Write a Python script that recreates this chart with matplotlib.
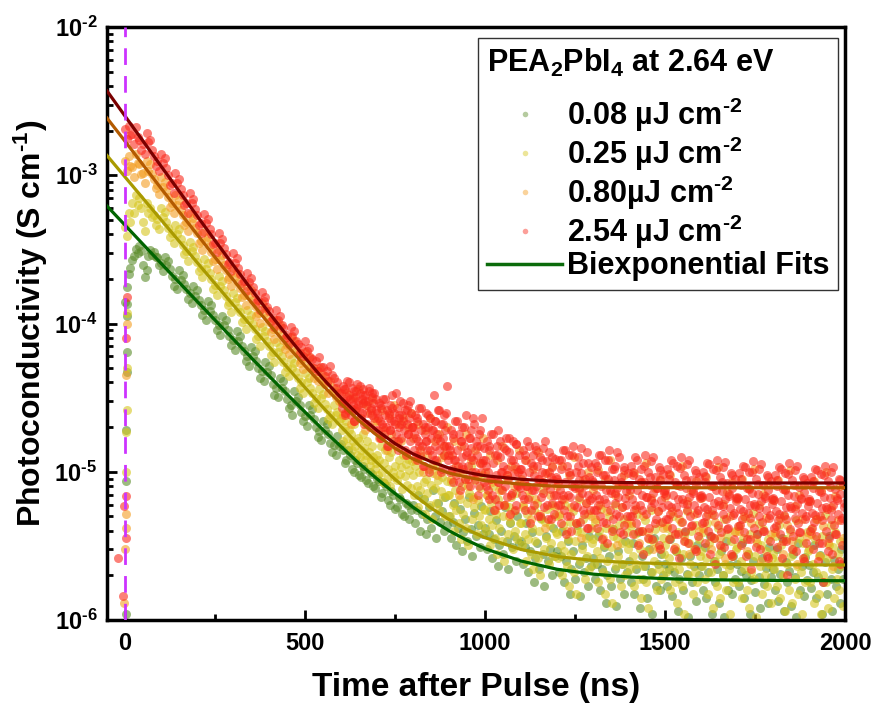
import numpy as np
import matplotlib
matplotlib.use('Agg')
import matplotlib.pyplot as plt
from matplotlib.ticker import LogLocator, NullFormatter, FuncFormatter, MultipleLocator
from matplotlib.lines import Line2D

plt.rcParams['font.family'] = ['Liberation Sans', 'DejaVu Sans']
plt.rcParams['font.weight'] = 'bold'
plt.rcParams['mathtext.fontset'] = 'custom'
plt.rcParams['mathtext.rm'] = 'Liberation Sans:bold'
plt.rcParams['mathtext.it'] = 'Liberation Sans:bold'
plt.rcParams['mathtext.bf'] = 'Liberation Sans:bold'

# all conductivities in uS/cm (1e-6 S/cm)
labels = ['0.08 µJ cm$^{\\text{-}2}$', '0.25 µJ cm$^{\\text{-}2}$',
          '0.80µJ cm$^{\\text{-}2}$', '2.54 µJ cm$^{\\text{-}2}$']
dot_colors = ['#5b8c2a', '#d6c61e', '#f49e22', '#fa2b1e']
fit_colors = ['#006400', '#a99a00', '#b35a00', '#7a0000']

# early part, sampled every 5 ns from 0 to 595 ns
early_t = np.arange(0, 600, 5)
green_early = [140, 175, 215, 235, 270, 285, 320, 300, 335, 310, 250, 205, 230, 285, 315, 290, 305, 280, 280, 250,
               255, 225, 280, 250, 265, 232, 210, 180, 200, 172, 229, 197, 214, 184, 171, 147, 160, 138, 179, 154,
               167, 144, 134, 115, 123, 106, 141, 122, 133, 114, 106, 91, 97, 84, 112, 97, 105, 90, 83, 72,
               77, 66, 89, 76, 82, 71, 65, 56, 60, 52, 69, 60, 65, 56, 50, 43, 48, 41, 55, 47,
               52, 45, 39, 33, 37, 32, 43, 37, 41, 35, 31, 27, 28, 24, 35, 30, 32, 28, 25.4, 21.9,
               23.8, 20.5, 28.1, 24.2, 26.5, 22.8, 20, 17.2, 18.9, 16.3, 22.1, 19.1, 21.1, 18.1, 15.7, 13.5, 15.1, 13, 17.3, 14.9]
yellow_early = [450, 390, 560, 484, 648, 558, 734, 632, 702, 605, 486, 419, 648, 558, 605, 521, 540, 465, 508, 437,
                605, 521, 562, 484, 443, 381, 405, 349, 464, 400, 432, 372, 340, 293, 308, 265, 356, 307, 329, 284,
                261, 225, 238, 205, 272, 234, 254, 219, 200, 172, 181, 156, 210, 180, 194, 167, 154, 133, 139, 120,
                161, 139, 149, 128, 119, 102, 107, 92, 123, 106, 114, 99, 92, 79, 82, 71, 95, 82, 89, 76,
                71, 61, 64, 55, 75, 64, 69, 60, 55, 47, 51, 44, 58, 50, 54, 47, 43, 37, 40, 34,
                46, 40, 42.7, 36.7, 34, 29.3, 31.3, 27, 36.2, 31.2, 33.5, 28.8, 26.5, 22.8, 24.3, 20.9, 28.1, 24.2, 25.4, 21.9]
orange_early = [1240, 1070, 1350, 1160, 1130, 977, 1400, 1210, 1190, 1020, 1030, 884, 1240, 1070, 1190, 1020, 950, 818, 864, 744,
                972, 837, 907, 781, 713, 614, 648, 558, 734, 632, 680, 586, 540, 465, 486, 419, 551, 474, 513, 442,
                405, 349, 362, 312, 416, 358, 386, 332, 305, 262, 272, 234, 311, 268, 289, 249, 231, 199, 206, 178,
                238, 205, 220, 190, 174, 150, 156, 134, 179, 154, 167, 144, 132, 113, 118, 101, 137, 118, 127, 110,
                102, 87, 92, 79, 105, 90, 97, 84, 78, 67, 72, 62, 81, 70, 76, 65, 63, 54, 57, 49,
                64, 55, 59, 51, 50, 43, 48, 41, 50, 43, 45, 39, 40, 34, 41, 35, 37, 32, 35, 30]
red_early = [2050, 1770, 2160, 1860, 1890, 1630, 2100, 1810, 1730, 1490, 1620, 1400, 1940, 1670, 1730, 1490, 1350, 1160, 1240, 1070,
             1400, 1210, 1300, 1120, 1000, 865, 885, 763, 1037, 893, 940, 809, 734, 632, 648, 558, 756, 651, 691, 595,
             540, 465, 475, 409, 551, 474, 508, 437, 400, 344, 351, 302, 405, 349, 373, 321, 294, 253, 261, 225,
             298, 257, 275, 237, 217, 187, 193, 166, 220, 190, 203, 175, 161, 139, 144, 124, 164, 141, 151, 130,
             121, 104, 109, 94, 123, 106, 113, 98, 93, 80, 84, 73, 95, 82, 89, 76, 73, 63, 69, 60,
             76, 65, 68, 59, 58, 50, 56, 48, 59, 51, 51, 44, 48, 41, 52, 45, 43, 37, 40, 34]

# points on the rising edge around t = 0
green_edge_t = [3, 4, 4, 5, 5, 6, 6]
green_edge = [1.1, 8.7, 19, 47, 64, 113, 136]
yellow_edge_t = [3, 4, 5, 5, 6]
yellow_edge = [9.9, 18.5, 26, 50, 117]
orange_edge_t = [-2, 1, 2, 3, 4, 5]
orange_edge = [1.3, 3.0, 4.2, 5.2, 45, 100]
red_edge_t = [-18, -6, -4, 2, 3, 4, 6]
red_edge = [2.6, 1.45, 5.9, 3.6, 6.9, 80, 150]

# tails from 600 ns to 2000 ns (evenly sampled)
green_tail = [
    15.5, 14, 11.5, 12, 14, 13, 10.5, 10, 12, 11.5, 9.5, 9.2, 11, 10.5, 8.8, 8.4, 10, 9.6, 8, 7.8,
    9, 8.6, 6.8, 7.2, 8.4, 8, 6.4, 6, 7.4, 7, 5.6, 5.8, 6.8, 6.5, 5.2, 5, 6.2, 6, 4.8, 5.5,
    6, 4.5, 5.5, 7, 4, 5.2, 6.5, 3.8, 4.8, 5.8, 4.2, 7.5, 5, 3.6, 6.2, 4.6, 5.4, 4, 6.8, 4.4,
    5, 3.6, 4.6, 6.2, 3.2, 4.2, 5.6, 2.9, 3.9, 4.8, 3.4, 6.8, 4.1, 2.7, 5.3, 3.7, 4.4, 3.1, 5.9, 3.8,
    4.2, 3, 3.8, 5.4, 2.6, 3.5, 4.7, 2.3, 3.2, 4, 2.8, 5.8, 3.4, 2.2, 4.5, 3.1, 3.7, 2.5, 5, 3.3,
    3.4, 2.4, 3.1, 4.5, 2.1, 2.9, 3.9, 1.8, 2.6, 3.3, 2.2, 4.9, 2.8, 1.7, 3.7, 2.5, 3, 2, 4.2, 2.7,
    2.9, 2.1, 2.7, 4, 1.8, 2.5, 3.4, 1.5, 2.2, 2.9, 1.9, 4.4, 2.4, 1.45, 3.2, 2.1, 2.6, 1.7, 3.7, 2.3,
    2.6, 1.9, 2.4, 3.7, 1.6, 2.2, 3.1, 1.3, 2, 2.7, 1.7, 4.1, 2.2, 1.25, 2.9, 1.9, 2.4, 1.5, 3.4, 2.1,
    2.5, 1.8, 3.3, 1.5, 2.2, 3.9, 1.2, 2.7, 1.9, 2.3, 1.4, 3, 2.1, 1.1, 3.6, 1.7, 2.4, 1.6, 2.8, 2,
    2.4, 1.7, 2.2, 3.5, 1.45, 2.1, 2.9, 1.15, 1.9, 2.6, 1.6, 3.9, 2.05, 1.05, 2.7, 1.8, 2.3, 1.35, 3.2, 2,
    2.3, 1.6, 3.1, 1.4, 2.1, 3.7, 1.1, 2.5, 1.8, 2.2, 1.3, 2.9, 2, 1.05, 3.4, 1.6, 2.35, 1.5, 2.7, 1.9,
    2.4, 1.7, 2.15, 3.3, 1.4, 2, 2.8, 1.1, 1.85, 2.5, 1.55, 3.8, 1.95, 1.2, 2.6, 1.75, 2.25, 1.3, 3.1, 1.95,
    2.2, 1.6, 3, 1.35, 2.05, 3.6, 1.15, 2.45, 1.8, 2.15, 1.25, 2.8, 1.95, 1.05, 3.3, 1.6, 2.3, 1.45, 2.65, 1.85,
    2.35, 1.65, 2.1, 3.2, 1.4, 1.95, 2.75, 1.1, 1.8, 2.45, 1.5, 3.7, 1.9, 1.15, 2.55, 1.7, 2.2, 1.3, 3, 1.9]
yellow_tail = [
    23, 19, 16, 20, 22, 17, 15, 19, 18, 14, 16, 21, 15, 13, 17, 16, 12.5, 14, 18, 14.5, 12, 13, 16, 13.5, 11, 12, 15, 12.5, 10.5, 11.5,
    13, 9.5, 12, 15, 10, 8.5, 11.5, 14, 9, 10.5, 12.5, 8, 13.5, 10, 9.2, 11, 16, 8.8, 12, 9.6, 10.8, 7.6, 13, 9.4, 11.2, 8.2, 12.2, 10.2, 7.8, 11.8,
    9.5, 7, 11, 8, 5.8, 10, 7.5, 12.5, 6.5, 8.5, 5.2, 9, 7.2, 10.5, 6, 8.2, 4.8, 9.8, 7.8, 6.2, 11.5, 8.8, 5.5, 7.4, 9.2, 6.8, 13, 5, 8.6, 7,
    7, 5, 8.5, 6, 4, 7.5, 5.5, 10, 4.5, 6.5, 3.5, 8, 5.2, 9, 4.2, 6.2, 3.2, 7.2, 11, 4.8, 6.8, 5.8, 8.8, 3.8, 6.4, 5, 7.8, 4.4, 9.5, 5.6,
    5.5, 4, 7, 4.8, 3.2, 6.2, 4.4, 8, 3.6, 5.2, 2.8, 6.5, 4.2, 7.5, 3.4, 5, 2.5, 6, 9, 3.8, 5.8, 4.6, 6.8, 3, 5.4, 4, 7.2, 3.5, 8.5, 4.5,
    4.5, 3.2, 5.8, 3.8, 2.5, 5.2, 3.5, 6.8, 2.8, 4.2, 2.2, 5.5, 3.4, 6.2, 2.6, 4, 2, 4.8, 7.5, 3, 4.6, 3.6, 5.6, 2.4, 4.4, 3.3, 6, 2.7, 5, 3.9,
    3.8, 2.6, 5, 3.2, 2, 4.4, 2.9, 6, 2.3, 3.5, 1.7, 4.6, 2.8, 5.4, 2.1, 3.4, 1.5, 4, 6.5, 2.5, 3.9, 3, 4.8, 1.9, 3.6, 2.7, 5.2, 2.2, 4.2, 3.3,
    3.5, 2.4, 4.6, 2.9, 1.8, 4, 2.6, 5.6, 2.1, 3.2, 1.5, 4.2, 2.5, 5, 1.9, 3.1, 1.3, 3.7, 6, 2.3, 3.6, 2.7, 4.4, 1.7, 3.3, 2.4, 4.8, 2, 3.9, 3,
    3.3, 2.2, 4.3, 2.7, 1.7, 3.8, 2.4, 5.2, 1.9, 3, 1.4, 4, 2.3, 4.7, 1.8, 2.9, 1.2, 3.5, 5.5, 2.1, 3.4, 2.5, 4.1, 1.6, 3.1, 2.2, 4.5, 1.9, 3.6, 2.8,
    3.2, 2.1, 4.2, 2.6, 1.6, 3.7, 2.3, 5, 1.8, 2.9, 1.3, 3.9, 2.2, 4.6, 1.7, 2.8, 1.1, 3.4, 5.4, 2, 3.3, 2.4, 4, 1.5, 3, 2.1, 4.4, 1.8, 3.5, 2.7,
    2.9, 2.3, 3.9, 1.9, 2.6, 4.5, 1.5, 3.3, 2.1, 5.2, 1.2, 3.6, 2.5, 1.7, 4.2, 2.8, 1.4, 3.1, 2, 4.8, 2.4, 1.6, 3.8, 2.2, 1.1, 3.4, 2.7, 1.8, 4, 3,
    3.1, 1.8, 4.3, 2.5, 1.4, 3.6, 2.2, 4.9, 1.6, 2.8, 1.2, 3.8, 2.1, 5.3, 1.9, 2.7, 1.05, 3.3, 4.5, 2.3, 3.2, 1.5, 4.1, 2, 2.9, 1.7, 3.5, 2.4, 1.3, 2.6,
    2.8, 2.2, 3.7, 1.7, 2.5, 4.4, 1.4, 3.2, 2, 5, 1.15, 3.5, 2.4, 1.6, 4, 2.7, 1.3, 3, 1.9, 4.7, 2.3, 1.5, 3.6, 2.1, 1.1, 3.3, 2.6, 1.8, 3.9, 2.9,
    3, 1.8, 4.1, 2.4, 1.3, 3.5, 2.1, 4.8, 1.5, 2.7, 1.1, 3.7, 2, 5.1, 1.8, 2.6, 1.2, 3.2, 4.4, 2.2, 3.1, 1.4, 3.9, 1.9, 2.8, 1.6, 3.4, 2.3, 1.25, 2.5]
orange_tail = [
    30, 24, 34, 27, 21, 32, 26, 36, 23, 29, 19, 28, 25, 31, 22,
    22, 17, 26, 19, 14, 24, 18, 28, 15, 21, 16, 23, 13, 20, 25,
    17, 12, 21, 14, 10, 19, 13, 23, 11, 16, 9.5, 18, 12.5, 15, 20,
    13, 9, 16, 11, 7, 15, 10, 18, 8, 12, 6.5, 14, 9.5, 11.5, 17,
    10, 7, 13, 8.5, 5.5, 12, 7.5, 15, 6, 9.5, 5, 11, 8, 10.5, 14,
    9, 6, 12, 7.5, 4.8, 10.5, 6.5, 13.5, 5.2, 8.5, 4.2, 9.8, 7, 11, 5.8,
    8, 5.2, 11, 6.5, 4, 9.5, 5.8, 12.5, 4.5, 7.5, 3.6, 8.8, 6.2, 10, 5,
    7.5, 4.8, 10.2, 6, 3.6, 9, 5.4, 12, 4.2, 7, 3.2, 8.2, 5.8, 9.5, 4.5,
    7, 4.5, 9.8, 5.6, 3.3, 8.5, 5, 11.5, 3.9, 6.6, 3, 7.8, 5.4, 9, 4.2,
    6.8, 4.3, 9.5, 5.4, 3.1, 8.2, 4.8, 11, 3.7, 6.3, 2.8, 7.5, 5.2, 8.7, 4,
    6.6, 4.2, 9.2, 5.2, 3, 8, 4.6, 10.8, 3.6, 6.1, 2.6, 7.3, 5, 8.5, 3.9,
    6.5, 4, 9, 5, 2.9, 7.8, 4.5, 10.5, 3.5, 6, 2.5, 7.1, 4.9, 8.3, 3.8,
    6.4, 3.9, 8.8, 4.9, 2.8, 7.6, 4.4, 10.2, 3.4, 5.9, 2.4, 7, 4.8, 8.1, 3.7,
    6.3, 3.8, 8.6, 4.8, 2.7, 7.5, 4.3, 10, 3.3, 5.8, 2.3, 6.9, 4.7, 8, 3.6]
red_tail = [
    34, 27, 38, 30, 25, 36, 29, 41, 26, 33, 31, 24, 37, 28, 35, 22, 32, 27, 39, 30,
    26, 34, 23, 31, 29, 36, 21, 33, 28, 25, 30, 35, 20, 27, 32, 24, 29, 34, 19, 26,
    25, 19, 29, 22, 17, 27, 21, 31, 18, 24, 20, 26, 15, 23, 28, 19, 22, 33, 16, 25,
    21, 18, 27, 14, 23, 20, 30, 17, 24, 22, 19, 26, 13, 21, 28, 18, 23, 16, 25, 20,
    20, 14, 24, 17, 12, 22, 16, 27, 13, 19, 15, 21, 11, 18, 25, 16, 14, 20, 10, 23,
    17, 13, 19, 33, 15, 22, 12, 18, 26, 14, 16, 21, 10.5, 17, 24, 13, 19, 15, 38, 12,
    15, 10, 19, 13, 8.5, 17, 12, 22, 9.5, 14, 11, 18, 7.5, 16, 12.5, 20, 10.5, 15, 9, 24,
    13.5, 11, 17, 8, 14.5, 19, 10, 12, 21, 9, 16, 13, 7, 18, 11.5, 15, 10, 23, 12, 8.5,
    12, 8, 16, 10, 6.5, 14, 9, 18, 7, 11.5, 5.5, 13, 9.5, 15, 8.5, 19, 6, 12.5, 10, 7.5,
    11, 14.5, 8, 17, 6.8, 10.5, 9, 13.5, 5.2, 12, 7.2, 16, 9.8, 11, 6, 15.5, 8.2, 10, 13, 7.8,
    10.5, 7, 14, 8.5, 5.5, 12, 8, 16, 6.5, 10, 4.5, 11.5, 7.5, 13, 9.5, 6, 15, 8, 11, 5,
    9, 12.5, 6.8, 10, 7.2, 14.5, 5.8, 9.8, 8.2, 11.8, 4.8, 13.5, 7.6, 9.2, 6.2, 10.8, 8.8, 5.2, 12.2, 7,
    9, 6, 12, 7.5, 4.5, 10.5, 6.5, 14, 5.5, 8.5, 3.8, 11, 7, 13, 5, 9.5, 4, 8, 15, 6,
    7.8, 10, 5.8, 12.5, 6.8, 8.8, 4.6, 9.8, 7.2, 11.5, 5.2, 8.2, 6.2, 13.5, 4.2, 7, 9.2, 5.5, 10.8, 6.6,
    8.5, 5.5, 11.5, 7, 4.2, 10, 6, 13, 5, 8, 3.5, 9.5, 6.5, 12, 4.5, 7.5, 3.3, 9, 14, 5.5,
    7.2, 10.5, 4.8, 8.8, 6.2, 11, 5.2, 7.8, 6.8, 12.5, 3.9, 9.2, 5.8, 8.2, 4.4, 10.2, 6.6, 7.4, 5, 9.8,
    8, 5, 11, 6.5, 3.8, 9.5, 5.5, 12.5, 4.5, 7.5, 3.2, 9, 6, 10.5, 4, 7, 2.8, 8.5, 13, 5.2,
    6.8, 10, 4.2, 8.2, 5.8, 11.8, 3.5, 7.2, 6.2, 9.2, 4.8, 7.8, 5.4, 10.8, 3, 8.8, 6.4, 4.6, 9.6, 7.4,
    7.5, 4.8, 10.5, 6, 3.5, 9, 5.2, 12, 4.2, 7, 3, 8.5, 5.8, 11, 3.8, 6.5, 2.6, 8, 12.5, 4.6,
    6.2, 9.5, 4, 7.8, 5.5, 11.2, 3.3, 6.8, 5, 8.8, 4.4, 7.2, 6, 10.2, 2.9, 8.2, 5.3, 3.7, 9.2, 6.6,
    7, 4.5, 10, 5.8, 3.3, 8.5, 5, 11.5, 4, 6.8, 2.8, 8, 5.5, 10.5, 3.6, 6.2, 2.4, 7.5, 12, 4.4,
    6, 9.2, 3.9, 7.4, 5.2, 10.8, 3.1, 6.5, 4.8, 8.4, 4.2, 6.9, 5.7, 9.8, 2.7, 7.8, 5.1, 3.5, 8.9, 6.3,
    6.8, 4.3, 9.8, 5.6, 3.2, 8.2, 4.8, 11, 3.9, 6.5, 2.7, 7.8, 5.3, 10, 3.5, 6, 2.2, 7.2, 11.8, 4.2,
    5.9, 9, 3.8, 7.1, 5, 10.5, 3, 6.3, 4.6, 8.1, 4, 6.7, 5.5, 9.5, 2.6, 7.5, 4.9, 3.4, 8.6, 6.1,
    6.6, 4.2, 9.5, 5.4, 3.1, 8, 4.7, 10.8, 3.8, 6.3, 2.6, 7.6, 5.1, 9.8, 3.4, 5.8, 2, 7, 11.5, 4.1,
    5.7, 8.8, 3.7, 6.9, 4.9, 10.2, 2.9, 6.1, 4.5, 7.9, 3.9, 6.5, 5.3, 9.2, 2.5, 7.3, 4.8, 3.3, 8.4, 5.9,
    6.5, 4, 9.2, 5.3, 3, 7.8, 4.6, 10.5, 3.7, 6.2, 2.5, 7.4, 5, 9.6, 3.3, 5.7, 1.8, 6.8, 11, 4,
    5.6, 8.6, 3.6, 6.7, 4.8, 10, 2.8, 6, 4.4, 7.7, 3.8, 6.4, 5.2, 9, 2.4, 7.1, 4.7, 3.2, 8.2, 5.8]
# second red trace sweep, 602.5 ns to 2002.5 ns, filling the dense cloud
red_tail2 = [
    29, 36, 24, 32, 40, 27, 31, 22, 35, 28, 38, 25, 33, 30, 21, 37, 26, 34, 23, 31,
    23, 17, 28, 20, 31, 15, 25, 19, 27, 22, 34, 16, 24, 21, 29, 14, 26, 18, 30, 20,
    18, 13, 23, 15, 27, 11, 20, 16, 24, 14, 19, 12, 22, 17, 26, 10, 21, 15, 25, 13,
    14, 10.5, 18, 12, 22, 8.5, 16, 11, 20, 13, 9, 17, 12.5, 23, 10, 15, 8, 19, 11.5, 14.5,
    11, 7.5, 15, 9, 18, 6.5, 13, 8.5, 16, 10, 6, 14, 9.5, 17, 7, 12, 5.5, 15.5, 8, 10.5,
    9.5, 6.5, 13, 8, 15, 5.5, 11, 7.5, 14, 9, 5, 12, 8.5, 16, 6, 10, 4.8, 12.5, 7, 9.2,
    8.5, 6, 12, 7, 14, 5, 10, 6.8, 13, 8, 4.5, 11, 7.8, 14.5, 5.5, 9, 4.2, 11.5, 6.4, 8.8,
    8, 5.5, 11, 6.5, 13, 4.6, 9.5, 6.2, 12, 7.5, 4, 10.5, 7.2, 13.5, 5, 8.5, 3.8, 10.8, 6, 8.2,
    7.5, 5, 10, 6, 12, 4, 8.5, 5.5, 11, 6.8, 3.6, 9.2, 6.4, 12.5, 4.5, 7.8, 3.2, 10.2, 5.8, 7.2,
    7, 4.8, 9.6, 5.8, 11.5, 3.8, 8.2, 5.3, 10.6, 6.5, 3.4, 8.8, 6.1, 12, 4.3, 7.4, 3, 9.8, 5.5, 6.9,
    6.8, 4.6, 9.3, 5.6, 11.2, 3.7, 8, 5.1, 10.3, 6.3, 3.2, 8.5, 5.9, 11.6, 4.1, 7.1, 2.8, 9.5, 5.3, 6.7,
    6.6, 4.4, 9, 5.4, 10.8, 3.5, 7.7, 4.9, 10, 6.1, 3.1, 8.3, 5.7, 11.3, 4, 6.9, 2.7, 9.2, 5.1, 6.5,
    6.4, 4.3, 8.8, 5.2, 10.5, 3.4, 7.5, 4.8, 9.7, 5.9, 3, 8.1, 5.6, 11, 3.9, 6.7, 2.6, 9, 5, 6.3,
    6.3, 4.2, 8.6, 5.1, 10.3, 3.3, 7.3, 4.7, 9.5, 5.8, 2.9, 7.9, 5.5, 10.8, 3.8, 6.6, 2.5, 8.8, 4.9, 6.2]

# biexponential fit curves
fit_t = [-50, 0, 50, 100, 150, 200, 250, 300, 350, 400, 450, 500, 550, 600, 650, 700,
         750, 800, 850, 900, 950, 1000, 1100, 1200, 1300, 1400, 1500, 1600, 1800, 2000]
green_fit = [620, 461, 342.6, 254.9, 189.8, 141.4, 105.5, 78.8, 59.0, 44.3, 33.4, 25.3, 19.2, 14.8, 11.4, 8.96,
             7.13, 5.77, 4.76, 4.0, 3.45, 3.03, 2.50, 2.20, 2.04, 1.95, 1.90, 1.87, 1.85, 1.84]
yellow_fit = [1359, 974.8, 699, 501.6, 360, 258.7, 186, 134, 96.6, 69.9, 50.8, 37.0, 27.2, 20.2, 15.1, 11.5,
              8.9, 7.05, 5.7, 4.76, 4.08, 3.59, 2.99, 2.68, 2.52, 2.44, 2.40, 2.37, 2.36, 2.35]
orange_fit = [2433, 1698, 1178, 817, 571, 400, 280, 198, 139.6, 99.6, 71.3, 51.8, 38.2, 28.7, 22.1, 17.6,
              14.4, 12.2, 10.8, 9.8, 9.2, 8.7, 8.25, 7.97, 7.88, 7.83, 7.81, 7.8, 7.8, 7.8]
red_fit = [3708, 2511, 1702, 1154, 784, 533, 363, 249, 171, 118.5, 82.9, 58.8, 42.5, 31.5, 24.0, 19.0,
           15.5, 13.2, 11.7, 10.6, 9.9, 9.4, 8.9, 8.6, 8.5, 8.45, 8.42, 8.4, 8.4, 8.4]

early = [green_early, yellow_early, orange_early, red_early]
edges_t = [green_edge_t, yellow_edge_t, orange_edge_t, red_edge_t]
edges = [green_edge, yellow_edge, orange_edge, red_edge]
tails = [green_tail, yellow_tail, orange_tail, red_tail]
fits = [green_fit, yellow_fit, orange_fit, red_fit]

fig = plt.figure(figsize=(8.74, 7.11), dpi=100)
ax = fig.add_axes([0.1224, 0.128, 0.8444, 0.834])

for i in range(4):
    tail_t = np.linspace(600, 2000, len(tails[i]), endpoint=False)
    t = np.concatenate([edges_t[i], early_t, tail_t])
    v = np.concatenate([edges[i], early[i], tails[i]])
    if i == 3:
        t = np.concatenate([t, np.linspace(602.5, 2002.5, len(red_tail2), endpoint=False)])
        v = np.concatenate([v, red_tail2])
    ax.scatter(t, v * 1e-6, s=42, color=dot_colors[i], alpha=0.6, linewidths=0, zorder=2)

for i in range(4):
    ax.plot(fit_t, np.array(fits[i]) * 1e-6, color=fit_colors[i], lw=2.3, zorder=3)

ax.axvline(0, color='#cc33ff', lw=2, linestyle=(0, (6, 4)), zorder=4)

ax.set_yscale('log')
ax.set_xlim(-50, 2000)
ax.set_ylim(1e-6, 1e-2)

ax.xaxis.set_major_locator(MultipleLocator(500))
ax.xaxis.set_minor_locator(MultipleLocator(250))
ax.yaxis.set_major_locator(LogLocator(base=10, numticks=10))
ax.yaxis.set_minor_locator(LogLocator(base=10, subs=np.arange(2, 10), numticks=20))
ax.yaxis.set_minor_formatter(NullFormatter())
ax.yaxis.set_major_formatter(FuncFormatter(
    lambda v, p: '$10^{\\text{-}%d}$' % abs(int(round(np.log10(v))))))

ax.tick_params(which='both', direction='in', top=False, right=False, width=2)
ax.tick_params(which='major', length=7, labelsize=17)
ax.tick_params(which='minor', length=4)
ax.tick_params(axis='y', pad=7)
ax.tick_params(axis='x', pad=9)
for sp in ax.spines.values():
    sp.set_linewidth(2.5)

ax.set_xlabel('Time after Pulse (ns)', fontsize=24, fontweight='bold', labelpad=12)
ax.set_ylabel('Photoconductivity (S cm$^{\\text{-}1}$)', fontsize=23, fontweight='bold', labelpad=3)

handles = [Line2D([], [], marker='o', ls='', color=c, alpha=0.45, markersize=4, markeredgewidth=0)
           for c in dot_colors]
handles.append(Line2D([], [], color='#0b6b0b', lw=2.5))
leg = ax.legend(handles, labels + ['Biexponential Fits'], loc='upper right',
                bbox_to_anchor=(0.991, 0.982), borderaxespad=0, fontsize=22,
                title='PEA$_2$PbI$_4$ at 2.64 eV', title_fontsize=22, alignment='left',
                fancybox=False, edgecolor='#333333', framealpha=1, handlelength=2.45,
                handletextpad=0.15, labelspacing=0.02, borderpad=0.3)
leg._legend_box.sep = 12
leg.get_frame().set_linewidth(1)
leg.set_zorder(5)

fig.savefig('out.png', dpi=100)
